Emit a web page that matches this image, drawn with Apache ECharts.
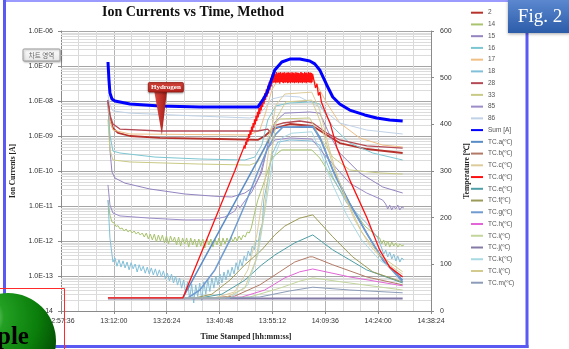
<!DOCTYPE html>
<html><head><meta charset="utf-8">
<script src="https://cdn.jsdelivr.net/npm/echarts@6.0.0/dist/echarts.min.js"></script>
<style>html,body{margin:0;padding:0;background:#fff;}#c{width:569px;height:349px;}</style>
</head><body><div id="c"></div>
<script>
// ---------------- DATA ----------------
const xTickLabels = ['12:57:36','13:12:00','13:26:24','13:40:48','13:55:12','14:09:36','14:24:00','14:38:24'];
const yLeftTicks = ['1.0E-14','1.0E-13','1.0E-12','1.0E-11','1.0E-10','1.0E-09','1.0E-08','1.0E-07','1.0E-06'];
const yRightTicks = [0,100,200,300,400,500,600];
const ionNames = ['2','14','15','16','17','18','28','33','85','86','Sum [A]'];
const tcNames = ['TC.a(℃)','TC.b(℃)','TC.c(℃)','TC.d(℃)','TC.e(℃)','TC.f(℃)','TC.g(℃)','TC.h(℃)','TC.i(℃)','TC.j(℃)','TC.k(℃)','TC.l(℃)','TC.m(℃)'];

const sSum = [['13:10:24',1.3e-7],['13:10:40',4.0e-8],['13:10:56',1.69e-8],['13:11:29',1.14e-8],['13:12:18',1.0e-8],['13:16:23',8.2e-9],['13:24:33',7.2e-9],['13:35:26',6.7e-9],['13:51:13',6.7e-9],['13:52:35',1.07e-8],['13:53:40',1.69e-8],['13:55:51',7.7e-8],['13:57:45',1.3e-7],['13:59:56',1.58e-7],['14:02:39',1.58e-7],['14:05:22',1.39e-7],['14:06:44',1.15e-7],['14:08:05',7.7e-8],['14:10:00',2.87e-8],['14:11:38',1.3e-8],['14:13:32',8.2e-9],['14:16:15',5.5e-9],['14:20:20',4.0e-9],['14:23:36',3.27e-9],['14:27:09',2.87e-9],['14:30:41',2.68e-9]];
const s2 = [['13:10:24',1.07e-8],['13:10:56',3.27e-9],['13:11:45',1.69e-9],['13:13:07',1.22e-9],['13:16:23',1.0e-9],['13:24:33',8.8e-10],['13:40:52',8.2e-10],['13:51:13',7.7e-10],['13:53:07',1.0e-9],['13:55:18',1.58e-9],['13:58:01',1.93e-9],['13:59:56',2.2e-9],['14:06:11',1.93e-9],['14:10:00',1.07e-9],['14:13:32',6.3e-10],['14:20:53',4.25e-10],['14:30:41',3.27e-10]];
const s28 = [['13:10:24',9.4e-9],['13:10:56',4.0e-9],['13:11:45',2.2e-9],['13:13:39',1.58e-9],['13:24:33',1.39e-9],['13:51:13',1.39e-9],['13:53:56',1.58e-9],['13:55:02',1.14e-9],['13:56:07',2.06e-9],['13:58:01',2.35e-9],['14:02:39',2.68e-9],['14:06:11',2.35e-9],['14:10:00',1.22e-9],['14:13:32',7.7e-10],['14:20:53',5.2e-10],['14:30:41',4.5e-10]];
const s17 = [['13:10:24',8.2e-9],['13:10:56',2.87e-9],['13:11:45',1.48e-9],['13:16:23',1.14e-9],['13:49:02',1.07e-9],['13:51:46',1.48e-9],['13:53:24',4.85e-9],['13:55:02',2.06e-8],['13:56:40',4.0e-8],['13:59:56',4.3e-8],['14:06:11',4.5e-8],['14:08:05',2.06e-8],['14:10:00',8.8e-9],['14:13:32',2.35e-9],['14:18:59',8.8e-10],['14:25:14',5.5e-10],['14:30:41',4.85e-10]];
const s86 = [['13:10:24',1.48e-8],['13:10:56',7.7e-9],['13:11:45',5.2e-9],['13:16:23',4.5e-9],['13:35:26',3.7e-9],['13:49:02',3.27e-9],['13:51:13',3.7e-9],['13:53:07',6.3e-9],['13:55:02',1.14e-8],['13:58:34',1.39e-8],['14:02:39',1.3e-8],['14:08:05',6.7e-9],['14:13:32',2.35e-9],['14:20:53',1.48e-9],['14:30:41',1.14e-9]];
const s16 = [['13:10:24',7.7e-9],['13:10:56',1.07e-9],['13:11:45',3.7e-10],['13:13:39',3.27e-10],['13:23:11',2.5e-10],['13:35:26',2.2e-10],['13:47:41',2.06e-10],['13:50:24',2.5e-10],['13:52:18',5.5e-10],['13:53:56',2.87e-9],['13:56:07',7.2e-9],['13:59:56',8.8e-9],['14:05:55',9.4e-9],['14:08:05',8.2e-9],['14:11:38',1.81e-9],['14:16:15',6.3e-10],['14:22:31',3.27e-10],['14:30:41',2.06e-10]];
const s33 = [['13:10:24',2.87e-9],['13:10:56',4.0e-10],['13:11:45',2.06e-10],['13:16:23',1.81e-10],['13:35:26',1.58e-10],['13:49:02',1.48e-10],['13:51:13',1.81e-10],['13:53:07',4.5e-10],['13:55:02',1.93e-9],['13:57:12',3.06e-9],['14:05:22',3.27e-9],['14:08:05',9.4e-10],['14:11:38',2.5e-10],['14:16:15',1.07e-10],['14:24:25',8.8e-11],['14:30:41',8.2e-11]];
const s15 = [['13:10:24',1.07e-8],['13:10:56',4.0e-10],['13:11:29',9.4e-11],['13:12:18',6.3e-11],['13:15:01',4.5e-11],['13:21:49',3.06e-11],['13:31:21',2.2e-11],['13:39:31',1.9e-11],['13:44:08',1.81e-11],['13:47:41',2.35e-11],['13:50:24',3.7e-11],['13:52:18',9.4e-11],['13:53:56',5.5e-10],['13:55:51',2.5e-9],['13:58:34',4.5e-9],['14:05:22',4.85e-9],['14:08:05',4.5e-9],['14:10:49',1.07e-9],['14:13:32',3.27e-10],['14:18:59',8.8e-11],['14:25:14',3.5e-11],['14:30:41',2.35e-11]];
const s85 = [['13:10:24',4.0e-11],['13:10:56',1.07e-11],['13:11:45',6.3e-12],['13:13:39',5.2e-12],['13:21:49',4.5e-12],['13:31:21',4.0e-12],['13:38:09',4.0e-12],['13:42:14',4.85e-12],['13:44:57',7.2e-12],['13:45:46',1.07e-11],['13:46:19',8.8e-12],['13:47:41',1.4e-11],['13:49:35',2.5e-11],['13:51:46',7.7e-11],['13:53:40',4.0e-10],['13:55:51',7.7e-10],['13:59:56',8.8e-10],['14:05:55',8.2e-10],['14:09:27',2.87e-10],['14:13:32',9.4e-11],['14:16:15',4.5e-11],['14:20:53',2.35e-11],['14:25:14',1.48e-11]];
const s85EndStart = '14:26:03';
const s85End = [1.14e-11,8.2e-12,1.07e-11,7.7e-12,1.0e-11,8.2e-12,1.07e-11,7.7e-12,9.4e-12,8.8e-12];

const s14Head = [['13:10:24',1.48e-11],['13:10:56',5.5e-12],['13:11:29',3.5e-12]];
const s14NoiseStart = '13:12:02';
const s14Noise = [3.3e-12,2.6e-12,2.75e-12,2.2e-12,2.35e-12,1.93e-12,2.2e-12,1.81e-12,2.06e-12,1.69e-12,
1.93e-12,1.58e-12,1.81e-12,1.48e-12,1.69e-12,1.3e-12,1.69e-12,1.14e-12,1.58e-12,1.07e-12,
1.58e-12,9.4e-13,1.48e-12,1.0e-12,1.48e-12,8.8e-13,1.39e-12,8.2e-13,1.39e-12,9.4e-13,
1.3e-12,7.7e-13,1.3e-12,7.2e-13,1.22e-12,8.2e-13,1.22e-12,6.7e-13,1.22e-12,7.7e-13,
1.14e-12,6.7e-13,1.14e-12,7.2e-13,1.14e-12,6.3e-13,1.14e-12,7.7e-13,1.14e-12,6.7e-13,
1.14e-12,7.7e-13,1.22e-12,7.2e-13,1.22e-12,8.2e-13,1.22e-12,8.8e-13,1.3e-12,9.4e-13,
1.3e-12,1.0e-12,1.39e-12,1.07e-12,1.48e-12,1.3e-12,1.81e-12,1.69e-12,2.35e-12];
const s14Mid = [['13:50:24',6.7e-12],['13:51:13',1.48e-11],['13:53:07',5.5e-11],['13:55:02',2.35e-10],['13:57:45',4.0e-10],['14:05:55',4.0e-10],['14:08:05',2.35e-10],['14:12:10',5.0e-11],['14:16:15',1.07e-11],['14:20:20',2.7e-12],['14:23:36',1.39e-12]];
const s14EndStart = '14:24:25';
const s14End = [1.22e-12,8.2e-13,1.07e-12,7.2e-13,1.0e-12,6.7e-13,9.4e-13,7.2e-13,8.8e-13,6.7e-13,8.2e-13,7.2e-13,7.7e-13];

const s18Head = [['13:10:24',1.48e-11],['13:10:56',1.2e-12]];
const s18NoiseStart = '13:11:45';
const s18Noise = [2.5e-13,3.3e-13,1.9e-13,2.9e-13,1.8e-13,2.7e-13,1.7e-13,2.5e-13,1.5e-13,2.4e-13,
1.6e-13,2.2e-13,1.3e-13,2.1e-13,1.4e-13,1.9e-13,1.2e-13,1.8e-13,1.14e-13,1.7e-13,
1.07e-13,1.6e-13,1.0e-13,1.5e-13,9.4e-14,1.4e-13,8.2e-14,1.2e-13,7.2e-14,1.14e-13,
6.3e-14,1.0e-13,5.5e-14,8.8e-14,4.5e-14,7.7e-14,3.4e-14,6.8e-14,2.2e-14,5.9e-14,
1.7e-14,5.5e-14,2.6e-14,6.3e-14,2.0e-14,6.8e-14,3.0e-14,7.7e-14,3.6e-14,8.8e-14,
4.5e-14,1.0e-13,5.5e-14,1.14e-13,6.3e-14,1.3e-13,7.7e-14,1.5e-13,9.4e-14,1.8e-13,
1.14e-13,2.4e-13,1.5e-13,2.9e-13,1.9e-13,3.7e-13,2.7e-13,5.2e-13,3.7e-13,7.2e-13,
5.5e-13,1.07e-12,9.4e-13,2.06e-12,3.1e-12];
const s18Mid = [['13:52:51',1.48e-11],['13:53:56',5.5e-11],['13:55:02',2.87e-10],['13:56:40',6.7e-10],['13:59:56',7.7e-10],['14:05:55',7.2e-10],['14:08:05',5.5e-10],['14:11:38',6.7e-11],['14:15:26',1.22e-11],['14:20:53',3.2e-12],['14:23:53',1.22e-12]];
const s18EndStart = '14:24:58';
const s18End = [6.3e-13,4.2e-13,5.5e-13,3.5e-13,4.85e-13,3.06e-13,4.2e-13,2.7e-13,3.7e-13,2.5e-13,3.27e-13,2.87e-13];

const tcA = [['13:10:24',28],['13:30:48',28],['13:56:07',394],['14:06:11',394],['14:08:05',373],['14:11:38',302],['14:16:15',231],['14:20:53',167],['14:25:14',109],['14:30:41',66]];
const tcB = [['13:10:24',28],['13:38:09',28],['13:44:57',32],['13:51:46',56],['13:57:12',84],['14:01:17',105],['14:05:22',116],['14:06:11',116],['14:11:38',99],['14:20:53',73],['14:30:41',56]];
const tcC = [['13:10:24',28],['13:39:31',28],['13:44:57',41],['13:48:30',88],['13:50:57',163],['13:52:51',259],['13:54:29',366],['13:56:07',441],['13:58:34',465],['14:05:55',469],['14:08:05',431],['14:10:49',345],['14:13:32',270],['14:17:37',195],['14:21:42',141],['14:25:47',105],['14:30:41',79]];
const tcDHead = [['13:10:24',28],['13:30:48',28]];
const tcDRamp1Start = '13:44:08';
const tcDRamp1 = [285,289,300,303,317,318,333,332,349];
const tcDRamp2Start = '13:47:32';
const tcDRamp2 = [355,348,363,356,371,363,379,371,387,378,
395,385,403,393,411,400,419,407,427,415,
435,422,443,430,451,437,459,444,467,452,
475,459,483,466,491,474,499,481,507,489];
const tcDPlateauStart = '13:55:28';
const tcDPlateau = [510,489,511,490,508,488,512,491,509,489,511,490,510,487,512,490,509,491,511,489,
510,488,512,490,509,489,511,491,510,488,512,489,510,490,511,488,509,491,512,489,
510,490,511,488,509,490,512,489,510,491,511,488,510,490,509,489,512,490,511,488,
510,491,509,489,512,490,510,488,511,490,509,491,512,489,510,490,511,488,510,490,
508];
const tcDDescentStart = '14:06:32';
const tcDDescent = [504,478,487,462,469,448,450,432,433,417,414,402];
const tcDTail = [['14:12:43',351],['14:16:15',281],['14:20:53',201],['14:24:25',131],['14:27:09',94],['14:30:41',73]];
const tcE = [['13:10:24',28],['13:35:26',28],['13:41:25',36],['13:47:41',66],['13:52:18',99],['13:55:51',120],['14:01:17',146],['14:06:11',163],['14:11:38',131],['14:20:53',88],['14:30:41',60]];
const tcF = [['13:10:24',28],['13:34:04',28],['13:38:42',36],['13:43:36',66],['13:47:41',99],['13:52:18',131],['13:55:51',163],['13:58:34',182],['14:02:39',199],['14:06:11',206],['14:11:38',159],['14:17:04',116],['14:22:31',84],['14:30:41',62]];
const tcG = [['13:10:24',28],['13:32:10',28],['13:35:26',45],['13:39:31',88],['13:43:36',152],['13:47:41',227],['13:51:13',298],['13:53:56',349],['13:56:07',379],['13:58:01',394],['14:06:11',396],['14:08:38',362],['14:12:27',287],['14:16:48',221],['14:21:26',159],['14:25:47',105],['14:30:41',62]];
const tcH = [['13:10:24',28],['13:39:31',28],['13:46:52',30],['13:53:07',45],['13:58:34',71],['14:02:39',84],['14:06:11',90],['14:16:15',73],['14:30:41',54]];
const tcI = [['13:10:24',28],['13:40:52',28],['13:49:02',30],['13:57:12',49],['14:02:39',64],['14:06:11',71],['14:16:15',60],['14:30:41',45]];
const tcJ = [['13:10:24',27],['14:30:41',27]];
const tcK = [['13:10:24',28],['13:43:36',28],['13:48:30',56],['13:51:13',120],['13:53:24',227],['13:55:18',324],['13:57:45',371],['14:00:28',381],['14:05:55',384],['14:08:05',345],['14:11:38',270],['14:15:26',206],['14:19:31',152],['14:24:25',109],['14:30:41',75]];
const tcL = [['13:10:24',28],['13:42:14',28],['13:47:41',49],['13:50:40',109],['13:52:51',206],['13:54:29',313],['13:56:23',414],['13:58:50',448],['14:05:55',452],['14:08:05',409],['14:11:38',313],['14:15:26',238],['14:19:31',169],['14:24:25',120],['14:30:41',84]];
const tcM = [['13:10:24',28],['13:42:14',28],['13:51:46',30],['13:59:56',43],['14:06:11',51],['14:16:15',45],['14:30:41',39]];

const hydrogenLabel = 'Hydrogen';
const hydrogenTime = '13:25:05';
const hydrogenValue = 1.07e-9;

// ---------------- HELPERS ----------------
const ts = s => { const p = s.split(':').map(Number); return p[0]*3600 + p[1]*60 + p[2]; };
const pad = n => (n < 10 ? '0' : '') + n;
const hms = v => { const s = Math.round(v); return pad(Math.floor(s/3600)) + ':' + pad(Math.floor(s%3600/60)) + ':' + pad(s%60); };
const pairs = arr => arr.map(p => [ts(p[0]), p[1]]);
const sampled = (start, step, vals) => vals.map((v, i) => [ts(start) + i*step, v]);

const X_MIN = ts(xTickLabels[0]), X_MAX = ts(xTickLabels[xTickLabels.length-1]);
const X_STEP = ts(xTickLabels[1]) - X_MIN;

const ionData = {
  '2': pairs(s2),
  '14': [...pairs(s14Head), ...sampled(s14NoiseStart, 33, s14Noise), ...pairs(s14Mid), ...sampled(s14EndStart, 33, s14End)],
  '15': pairs(s15),
  '16': pairs(s16),
  '17': pairs(s17),
  '18': [...pairs(s18Head), ...sampled(s18NoiseStart, 33, s18Noise), ...pairs(s18Mid), ...sampled(s18EndStart, 33, s18End)],
  '28': pairs(s28),
  '33': pairs(s33),
  '85': [...pairs(s85), ...sampled(s85EndStart, 33, s85End)],
  '86': pairs(s86),
  'Sum [A]': pairs(sSum)
};
const tcData = [pairs(tcA), pairs(tcB), pairs(tcC),
  [...pairs(tcDHead), ...sampled(tcDRamp1Start, 24, tcDRamp1), ...sampled(tcDRamp2Start, 12, tcDRamp2),
   ...sampled(tcDPlateauStart, 8, tcDPlateau), ...sampled(tcDDescentStart, 24, tcDDescent), ...pairs(tcDTail)],
  pairs(tcE), pairs(tcF), pairs(tcG), pairs(tcH), pairs(tcI), pairs(tcJ), pairs(tcK), pairs(tcL), pairs(tcM)];

const ionStyle = {
  '2': ['#b8322c', 1.8], '14': ['#a9c46e', 1], '15': ['#9484c0', 1], '16': ['#7cc6d2', 1],
  '17': ['#efbf85', 1], '18': ['#82c0da', 1], '28': ['#b54a55', 1.3], '33': ['#c9ca86', 1],
  '85': ['#9c8cc8', 1], '86': ['#bfd2e6', 1], 'Sum [A]': ['#0000ff', 3]
};
const tcStyle = [['#5a8cc8',1.5],['#b27a66',1],['#dccc9c',1],['#ff1010',1.3],['#4e9ea6',1],['#9c9a58',1],
  ['#6f9bd0',1.5],['#e266d8',1],['#c2d69c',1],['#857aa6',2],['#a9d9e3',1],['#d3cb8d',1],['#8c9cb8',1]];

function lineSeries(name, data, color, width, yIdx, z) {
  return { name, type: 'line', data, yAxisIndex: yIdx, symbol: 'none', showSymbol: false,
    lineStyle: { color, width }, itemStyle: { color }, emphasis: { disabled: true },
    animation: false, z: z };
}

const series = [];
// minor log gridlines (2..9 x 10^n)
const minorVals = [];
for (let e = -14; e < -6; e++) for (let m = 2; m <= 9; m++) minorVals.push(m * Math.pow(10, e));
series.push({
  type: 'custom', name: '_minor', silent: true, z: 1, xAxisIndex: 0, yAxisIndex: 0, animation: false,
  data: minorVals.map(v => [X_MIN, v]), encode: { x: 0, y: 1 },
  renderItem: (params, api) => {
    const p = api.coord([api.value(0), api.value(1)]);
    const cs = params.coordSys;
    const y = Math.round(p[1]) + 0.5;
    return { type: 'line', shape: { x1: cs.x, y1: y, x2: cs.x + cs.width, y2: y },
      style: { stroke: '#dcdcdc', lineWidth: 1 } };
  }
});
ionNames.forEach(n => series.push(lineSeries(n, ionData[n], ionStyle[n][0], ionStyle[n][1], 0, n === 'Sum [A]' ? 5 : 3)));
tcNames.forEach((n, i) => series.push(lineSeries(n, tcData[i], tcStyle[i][0], tcStyle[i][1], 1, i === 3 ? 4 : 3)));

const tickFont = { fontSize: 7, color: '#333', fontFamily: 'Liberation Sans' };
const nameFont = { fontSize: 7.5, fontWeight: 'bold', color: '#222', fontFamily: 'Liberation Serif' };

const option = {
  animation: false,
  backgroundColor: '#fff',
  grid: { left: 61, right: 138, top: 31, bottom: 38, containLabel: false },
  legend: {
    data: [...ionNames, ...tcNames], orient: 'vertical', left: 470, top: 8.7, padding: 0,
    itemWidth: 12, itemHeight: 8, itemGap: 3.74, selectedMode: false,
    itemStyle: { opacity: 0, borderWidth: 0 },
    textStyle: { fontSize: 6.5, lineHeight: 8, color: '#555', fontFamily: 'Liberation Sans' }
  },
  xAxis: {
    type: 'value', min: X_MIN, max: X_MAX, interval: X_STEP,
    name: 'Time Stamped [hh:mm:ss]', nameLocation: 'middle', nameGap: 22, nameTextStyle: Object.assign({}, nameFont, { fontSize: 8 }),
    axisLine: { show: true, lineStyle: { color: '#8a8a8a' } },
    axisTick: { show: true, length: 3, lineStyle: { color: '#8a8a8a' } },
    minorTick: { show: false, splitNumber: 3 },
    axisLabel: Object.assign({ margin: 7, formatter: v => hms(v) }, tickFont),
    splitLine: { show: true, lineStyle: { color: '#b4b4b4', width: 1 } },
    minorSplitLine: { show: true, lineStyle: { color: '#d8d8d8', width: 1 } }
  },
  yAxis: [
    {
      type: 'log', logBase: 10, min: 1e-14, max: 1e-6, splitNumber: 8, position: 'left',
      name: 'Ion Currents [A]', nameLocation: 'middle', nameGap: 44, nameRotate: 90, nameTextStyle: nameFont,
      axisLine: { show: true, lineStyle: { color: '#8a8a8a' } },
      axisTick: { show: true, length: 3, lineStyle: { color: '#8a8a8a' } },
      axisLabel: Object.assign({ margin: 8, formatter: v => yLeftTicks[Math.round(Math.log10(v)) + 14] || '' }, tickFont),
      splitLine: { show: true, lineStyle: { color: '#a6a6a6', width: 1 } }
    },
    {
      type: 'value', min: yRightTicks[0], max: yRightTicks[yRightTicks.length-1], interval: yRightTicks[1]-yRightTicks[0], position: 'right',
      name: 'Temperature [℃]', nameLocation: 'middle', nameGap: 26, nameRotate: 90, nameTextStyle: nameFont,
      axisLine: { show: true, lineStyle: { color: '#8a8a8a' } },
      axisTick: { show: true, length: 3, lineStyle: { color: '#8a8a8a' } },
      axisLabel: Object.assign({ margin: 9 }, tickFont),
      splitLine: { show: false }
    }
  ],
  series
};

const chart = echarts.init(document.getElementById('c'));
chart.setOption(option);

// ---------------- ANNOTATIONS / SLIDE DECOR ----------------
const tip = chart.convertToPixel({ xAxisIndex: 0, yAxisIndex: 0 }, [ts(hydrogenTime), hydrogenValue]);
const tx = tip[0], ty = tip[1];
const Z = 100;
const elements = [
  { type: 'text', z: Z, x: 193, y: 12, style: { text: 'Ion Currents vs Time, Method', font: 'bold 14px "Liberation Serif"', fill: '#111', align: 'center', verticalAlign: 'middle', textAlign: 'center', textVerticalAlign: 'middle' } },
  // chart-area tooltip
  { type: 'rect', z: Z, shape: { x: 23, y: 49, width: 37, height: 12, r: 1 },
    style: { fill: new echarts.graphic.LinearGradient(0,0,0,1,[{offset:0,color:'#ffffff'},{offset:1,color:'#e6e6e6'}]), stroke: '#9a9a9a', lineWidth: 1, shadowBlur: 2, shadowColor: 'rgba(0,0,0,0.25)', shadowOffsetX: 1, shadowOffsetY: 1 } },
  { type: 'text', z: Z + 1, x: 41.5, y: 55.3, style: { text: '차트 영역', font: '6.5px "Noto Sans CJK KR"', fill: '#666', align: 'center', verticalAlign: 'middle', textAlign: 'center', textVerticalAlign: 'middle' } },
  // Hydrogen callout
  { type: 'polygon', z: Z, shape: { points: [[tx - 7.5, ty - 43], [tx + 5, ty - 43], [tx, ty]] },
    style: { fill: new echarts.graphic.LinearGradient(0,0,1,0,[{offset:0,color:'#e04a40'},{offset:1,color:'#a01c18'}]) } },
  { type: 'rect', z: Z, shape: { x: tx - 13.5, y: ty - 52.5, width: 35, height: 9.5, r: 1 },
    style: { fill: new echarts.graphic.LinearGradient(0,0,0,1,[{offset:0,color:'#e0483e'},{offset:1,color:'#b0221c'}]), stroke: '#9a1a14', lineWidth: 0.8, shadowBlur: 2, shadowColor: 'rgba(0,0,0,0.35)', shadowOffsetY: 1 } },
  { type: 'text', z: Z + 1, x: tx + 4, y: ty - 47.6, style: { text: hydrogenLabel, font: 'bold 7px "Liberation Serif"', fill: '#ffffff', align: 'center', verticalAlign: 'middle', textAlign: 'center', textVerticalAlign: 'middle' } },
  // slide borders
  { type: 'line', z: Z, shape: { x1: 3, y1: 1, x2: 528, y2: 1 }, style: { stroke: '#9a9aff', lineWidth: 2 } },
  { type: 'line', z: Z, shape: { x1: 4.5, y1: 0, x2: 4.5, y2: 348 }, style: { stroke: '#5a5af2', lineWidth: 3 } },
  { type: 'line', z: Z, shape: { x1: 527, y1: 0, x2: 527, y2: 348 }, style: { stroke: '#5a5af2', lineWidth: 3 } },
  { type: 'line', z: Z, shape: { x1: 3, y1: 346.5, x2: 528.5, y2: 346.5 }, style: { stroke: '#5a5af2', lineWidth: 3 } },
  // Fig. 2 box
  { type: 'rect', z: Z + 2, shape: { x: 508, y: 0, width: 62, height: 33 },
    style: { fill: new echarts.graphic.LinearGradient(0,0,0,1,[{offset:0,color:'#5b88cf'},{offset:1,color:'#2c5ba8'}]), shadowBlur: 3, shadowColor: 'rgba(0,0,0,0.35)', shadowOffsetY: 1 } },
  { type: 'text', z: Z + 3, x: 540, y: 17, style: { text: 'Fig. 2', font: '19px "Liberation Serif"', fill: '#ffffff', align: 'center', verticalAlign: 'middle', textAlign: 'center', textVerticalAlign: 'middle' } },
  // red frame bottom-left
  { type: 'polyline', z: Z + 2, shape: { points: [[0, 288.5], [64.5, 288.5], [64.5, 349]] }, style: { stroke: '#ff2a2a', lineWidth: 1, fill: null } },
  // green ball
  { type: 'circle', z: Z + 3, shape: { cx: 8, cy: 341, r: 48 },
    style: { fill: new echarts.graphic.RadialGradient(0.22, 0.25, 0.85, [{offset:0,color:'#ffffff'},{offset:0.1,color:'#a6e3a6'},{offset:0.28,color:'#23a023'},{offset:0.7,color:'#0a7d0a'},{offset:1,color:'#044e04'}]) } },
  { type: 'text', z: Z + 4, x: -3, y: 350, style: { text: 'ple', font: 'bold 25px "Liberation Serif"', fill: '#000', align: 'left', verticalAlign: 'bottom', textAlign: 'left', textVerticalAlign: 'bottom' } }
];
chart.setOption({ graphic: { elements } });
</script></body></html>
